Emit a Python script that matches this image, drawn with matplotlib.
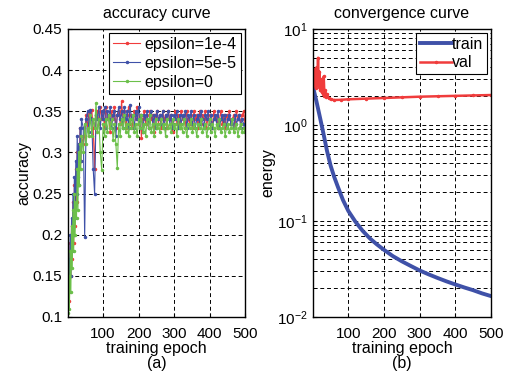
import matplotlib.pyplot as plt
from matplotlib.ticker import LogLocator, NullFormatter

plt.rcParams['font.family'] = ['Liberation Sans', 'DejaVu Sans']
plt.rcParams['mathtext.fontset'] = 'custom'
plt.rcParams['mathtext.rm'] = 'Liberation Sans'

epochs = list(range(1, 41, 2)) + list(range(44, 501, 4))

acc_1e4 = [0.13, 0.16, 0.12, 0.19, 0.15, 0.21, 0.17, 0.24, 0.19, 0.26,
           0.21, 0.28, 0.24, 0.30, 0.26, 0.31, 0.28, 0.33, 0.29, 0.32,
           0.31, 0.32, 0.345, 0.33, 0.35, 0.34, 0.352, 0.33, 0.28, 0.345,
           0.35, 0.335, 0.355, 0.34, 0.35, 0.33, 0.355, 0.34, 0.345, 0.325,
           0.35, 0.34, 0.355, 0.33, 0.345, 0.35, 0.335, 0.362, 0.34, 0.35,
           0.33, 0.345, 0.355, 0.335, 0.345, 0.33, 0.35, 0.34, 0.355, 0.335,
           0.345, 0.318, 0.34, 0.35, 0.335, 0.345, 0.33, 0.35, 0.34, 0.345,
           0.325, 0.345, 0.35, 0.335, 0.345, 0.33, 0.35, 0.34, 0.345, 0.33,
           0.35, 0.34, 0.345, 0.325, 0.34, 0.35, 0.335, 0.345, 0.33, 0.35,
           0.34, 0.345, 0.33, 0.35, 0.34, 0.335, 0.345, 0.33, 0.35, 0.34,
           0.345, 0.33, 0.35, 0.335, 0.345, 0.34, 0.35, 0.33, 0.345, 0.335,
           0.345, 0.33, 0.35, 0.34, 0.345, 0.33, 0.34, 0.35, 0.335, 0.345,
           0.33, 0.345, 0.34, 0.35, 0.335, 0.34, 0.345, 0.33, 0.35, 0.34,
           0.345, 0.335, 0.345, 0.35, 0.335]

acc_5e5 = [0.11, 0.17, 0.13, 0.20, 0.15, 0.22, 0.18, 0.25, 0.20, 0.27,
           0.22, 0.29, 0.25, 0.32, 0.27, 0.31, 0.26, 0.33, 0.29, 0.34,
           0.33, 0.197, 0.34, 0.35, 0.325, 0.352, 0.34, 0.28, 0.25, 0.345,
           0.34, 0.355, 0.33, 0.35, 0.34, 0.355, 0.33, 0.35, 0.34, 0.355,
           0.33, 0.345, 0.35, 0.32, 0.345, 0.355, 0.34, 0.35, 0.33, 0.355,
           0.34, 0.35, 0.33, 0.358, 0.34, 0.345, 0.33, 0.35, 0.34, 0.355,
           0.33, 0.345, 0.325, 0.345, 0.34, 0.35, 0.33, 0.345, 0.35, 0.335,
           0.345, 0.33, 0.35, 0.34, 0.345, 0.335, 0.35, 0.33, 0.345, 0.34,
           0.35, 0.335, 0.345, 0.33, 0.345, 0.34, 0.35, 0.33, 0.345, 0.335,
           0.345, 0.34, 0.35, 0.33, 0.345, 0.34, 0.35, 0.335, 0.345, 0.33,
           0.34, 0.345, 0.335, 0.35, 0.34, 0.33, 0.345, 0.34, 0.35, 0.335,
           0.345, 0.33, 0.34, 0.345, 0.335, 0.35, 0.33, 0.34, 0.345, 0.335,
           0.345, 0.33, 0.34, 0.345, 0.335, 0.34, 0.33, 0.345, 0.335, 0.34,
           0.345, 0.33, 0.34, 0.335, 0.325]

acc_0 = [0.105, 0.15, 0.11, 0.18, 0.13, 0.21, 0.16, 0.23, 0.18, 0.25,
         0.20, 0.24, 0.22, 0.28, 0.23, 0.30, 0.26, 0.31, 0.28, 0.32,
         0.30, 0.335, 0.31, 0.33, 0.32, 0.345, 0.32, 0.34, 0.33, 0.36,
         0.325, 0.34, 0.30, 0.279, 0.335, 0.32, 0.34, 0.325, 0.345, 0.33,
         0.34, 0.315, 0.335, 0.31, 0.281, 0.335, 0.32, 0.34, 0.33, 0.345,
         0.325, 0.335, 0.32, 0.34, 0.33, 0.345, 0.325, 0.335, 0.32, 0.34,
         0.33, 0.345, 0.325, 0.335, 0.32, 0.34, 0.33, 0.345, 0.325, 0.335,
         0.32, 0.34, 0.33, 0.335, 0.325, 0.34, 0.33, 0.335, 0.32, 0.34,
         0.33, 0.335, 0.325, 0.34, 0.33, 0.335, 0.32, 0.34, 0.33, 0.335,
         0.325, 0.34, 0.33, 0.32, 0.335, 0.33, 0.34, 0.325, 0.335, 0.33,
         0.32, 0.335, 0.33, 0.34, 0.325, 0.33, 0.335, 0.32, 0.33, 0.34,
         0.325, 0.335, 0.33, 0.32, 0.335, 0.33, 0.34, 0.325, 0.33, 0.335,
         0.32, 0.33, 0.335, 0.325, 0.33, 0.34, 0.325, 0.33, 0.335, 0.32,
         0.33, 0.335, 0.325, 0.33, 0.325]

train_epochs = [1, 5, 10, 20, 30, 40, 50, 60, 70, 85, 100, 120, 140, 160,
                180, 200, 225, 250, 275, 300, 325, 350, 375, 400, 425, 450,
                475, 500]
train_energy = [2.5, 2.15, 1.8, 1.22, 0.82, 0.54, 0.38, 0.29, 0.23, 0.165,
                0.127, 0.098, 0.079, 0.066, 0.057, 0.050, 0.043, 0.038,
                0.034, 0.0305, 0.0278, 0.0255, 0.0235, 0.0218, 0.0203,
                0.019, 0.0176, 0.0165]

val_epochs = list(range(1, 41, 2)) + [45, 50, 60, 80, 100, 150, 200, 250,
                                      300, 350, 400, 450, 500]
val_energy = [3.0, 3.8, 2.6, 3.4, 2.4, 4.0, 2.8, 5.0, 2.5, 3.6,
              2.3, 3.0, 2.2, 2.6, 2.1, 3.2, 2.0, 2.3, 1.95, 2.1,
              1.9, 1.85, 1.82, 1.83, 1.85, 1.88, 1.91, 1.94, 1.97, 1.99,
              2.01, 2.03, 2.05]

red = '#f03c3c'
blue = '#3f51a8'
green = '#6cc04a'

fig = plt.figure(figsize=(5.09, 3.77), dpi=100)
ax1 = fig.add_axes([0.1336, 0.1592, 0.3477, 0.764])
ax2 = fig.add_axes([0.615, 0.1592, 0.3497, 0.764])

grid_kw = dict(color='black', linestyle=(0, (4, 3)), linewidth=0.7)
fs = 11.5

# (a) accuracy
ax1.plot(epochs, acc_1e4, '.-', color=red, lw=0.8, ms=3, label='epsilon=1e-4')
ax1.plot(epochs, acc_5e5, '.-', color=blue, lw=0.8, ms=3, label='epsilon=5e-5')
ax1.plot(epochs, acc_0, '.-', color=green, lw=0.8, ms=3, label='epsilon=0')
ax1.set_xlim(1, 500)
ax1.set_ylim(0.1, 0.45)
ax1.set_xticks([100, 200, 300, 400, 500])
ax1.set_yticks([0.1, 0.15, 0.2, 0.25, 0.3, 0.35, 0.4, 0.45])
ax1.set_yticklabels(['0.1', '0.15', '0.2', '0.25', '0.3', '0.35', '0.4', '0.45'])
ax1.grid(True, **grid_kw)
ax1.set_title('accuracy curve', fontsize=fs, pad=8)
ax1.set_ylabel('accuracy', fontsize=fs, labelpad=1)
ax1.set_xlabel('training epoch\n(a)', fontsize=fs, labelpad=0, linespacing=1.0)
leg1 = ax1.legend(loc='upper right', fontsize=fs, fancybox=False,
                  edgecolor='black', framealpha=1, handlelength=1.7,
                  handletextpad=0.3, borderaxespad=0.25, labelspacing=0.25,
                  borderpad=0.25)
leg1.get_frame().set_linewidth(0.8)

# (b) convergence
ax2.semilogy(train_epochs, train_energy, '-', color=blue, lw=2.8, label='train')
ax2.semilogy(val_epochs, val_energy, '.-', color=red, lw=1.8, ms=3, label='val')
ax2.set_xlim(1, 500)
ax2.set_ylim(1e-2, 1e1)
ax2.set_xticks([100, 200, 300, 400, 500])
ax2.yaxis.set_minor_locator(LogLocator(base=10, subs=range(2, 10)))
ax2.yaxis.set_minor_formatter(NullFormatter())
ax2.grid(True, which='both', **grid_kw)
ax2.set_title('convergence curve', fontsize=fs, pad=8)
ax2.set_ylabel('energy', fontsize=fs, labelpad=1)
ax2.set_xlabel('training epoch\n(b)', fontsize=fs, labelpad=0, linespacing=1.0)
leg2 = ax2.legend(loc='upper right', fontsize=fs, fancybox=False,
                  edgecolor='black', framealpha=1, handlelength=2.0,
                  handletextpad=0.0, borderaxespad=0.25, labelspacing=0.2,
                  borderpad=0.25)
leg2.get_frame().set_linewidth(0.8)

for ax in (ax1, ax2):
    ax.tick_params(axis='both', which='both', direction='in', labelsize=11,
                   length=3)
    ax.tick_params(axis='x', pad=7)
    ax.tick_params(axis='y', pad=4)
    for s in ax.spines.values():
        s.set_linewidth(1.0)

plt.savefig('out.png', dpi=100)
